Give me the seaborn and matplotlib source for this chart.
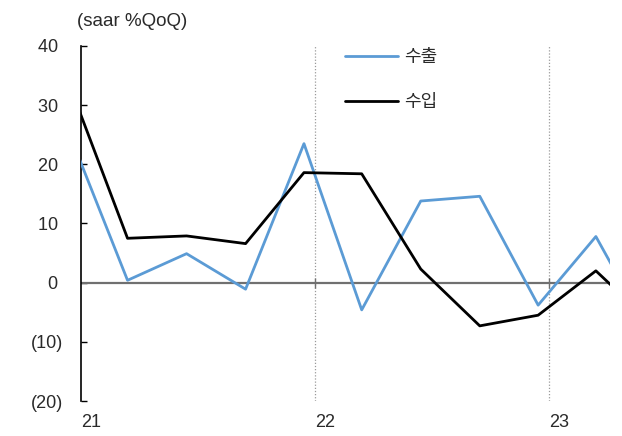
import pandas as pd
import matplotlib
matplotlib.use("Agg")
import matplotlib.pyplot as plt
import seaborn as sns

# ── Data (saar %QoQ, points sit mid last month of each quarter) ─────────────
quarters = ["2020-12-15", "2021-03-15", "2021-06-15", "2021-09-15", "2021-12-15",
            "2022-03-15", "2022-06-15", "2022-09-15", "2022-12-15", "2023-03-15",
            "2023-06-15"]
exports = [25.0, 0.4, 4.9, -1.1, 23.5, -4.6, 13.8, 14.6, -3.8, 7.8, -10.2]
imports = [33.3, 7.5, 7.9, 6.6, 18.6, 18.4, 2.3, -7.3, -5.5, 2.0, -7.4]
series_names = ["수출", "수입"]
series_colors = ["#5B9BD5", "#000000"]

year_ticks = ["2021-01-01", "2022-01-01", "2023-01-01"]
year_labels = ["21", "22", "23"]
y_ticks = [-20, -10, 0, 10, 20, 30, 40]
# Excel-style accounting format: positives padded to line up with ")"
y_labels = ["(20)", "(10)", "0 ", "10 ", "20 ", "30 ", "40 "]

df = pd.DataFrame({
    "date": pd.to_datetime(quarters * 2),
    "value": exports + imports,
    "series": [series_names[0]] * len(exports) + [series_names[1]] * len(imports),
})

sns.set_style("white")
plt.rcParams["font.family"] = ["Liberation Sans", "Noto Sans CJK KR"]
TXT = "#2a2a2a"

fig = plt.figure(figsize=(6.22, 4.36), dpi=100)
ax = fig.add_axes([80.7 / 622, 1 - 401 / 436, (610 - 80.7) / 622, (401 - 46) / 436])

# year separators + zero line
for d in year_ticks[1:]:
    ax.axvline(pd.Timestamp(d), color="#9a9a9a", lw=0.9, ls=(0, (1, 1.5)), zorder=1)
ax.axhline(0, color="#707070", lw=1.6, zorder=2)
ax.plot(pd.to_datetime(year_ticks[1:]), [0, 0], ls="none", marker="|",
        ms=7, mew=1, color="#707070", zorder=2)

sns.lineplot(data=df, x="date", y="value", hue="series", palette=series_colors,
             lw=2.0, ax=ax, zorder=3)

ax.set_xlim(pd.Timestamp("2021-01-01"), pd.Timestamp("2023-04-06"))
ax.set_ylim(-20, 40)
ax.set_yticks(y_ticks)
ax.set_yticklabels(y_labels, fontsize=13, color=TXT)
ax.set_xticks(pd.to_datetime(year_ticks))
ax.set_xticklabels(year_labels, fontsize=13, color=TXT, ha="left")
ax.tick_params(axis="x", length=0, pad=9)
ax.tick_params(axis="y", direction="in", length=4, width=1, color="black", pad=12.5, left=True)
ax.set_xlabel("")
ax.set_ylabel("")

for s in ["top", "right", "bottom"]:
    ax.spines[s].set_visible(False)
ax.spines["left"].set_color("black")
ax.spines["left"].set_linewidth(1.2)

leg = ax.legend(loc="upper left", bbox_to_anchor=(0.499, 0.991), frameon=False,
                fontsize=13, handlelength=2.95, handletextpad=0.35, labelspacing=1.55,
                borderpad=0, borderaxespad=0)
for t in leg.get_texts():
    t.set_color(TXT)

fig.text(77 / 622, 1 - 21.5 / 436, "(saar %QoQ)", fontsize=13.5, color=TXT, va="center")

fig.savefig("out.png", dpi=100)
